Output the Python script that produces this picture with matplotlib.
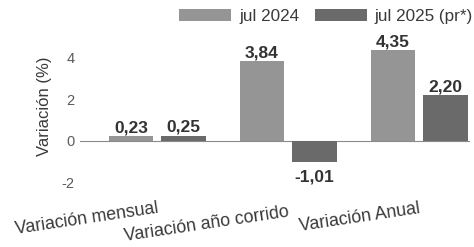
import matplotlib.pyplot as plt
import numpy as np

plt.rcParams['font.family'] = ['Liberation Sans', 'DejaVu Sans']

# data
categories = ['Variación mensual', 'Variación año corrido', 'Variación Anual']
jul_2024 = [0.23, 3.84, 4.35]
jul_2025 = [0.25, -1.01, 2.20]
series_names = ['jul 2024', 'jul 2025 (pr*)']

fig = plt.figure(figsize=(4.74, 2.47), dpi=100)
ax = fig.add_axes([0.169, 0.235, 0.823, 0.60])

x = np.arange(len(categories))
w = 0.34
off = 0.20
c24 = '#959595'
c25 = '#6a6a6a'
b1 = ax.bar(x - off, jul_2024, w, color=c24, label=series_names[0], zorder=2)
b2 = ax.bar(x + off, jul_2025, w, color=c25, label=series_names[1], zorder=2)

for bars in (b1, b2):
    for r in bars:
        v = r.get_height()
        s = f'{v:.2f}'.replace('.', ',')
        cx = r.get_x() + r.get_width() / 2
        if v >= 0:
            ax.text(cx, v + 0.18, s, ha='center', va='baseline',
                    fontsize=12.5, fontweight='bold', color='#333333')
        else:
            ax.text(cx, v - 0.38, s, ha='center', va='top',
                    fontsize=12.5, fontweight='bold', color='#333333')

ax.axhline(0, color='#8a8a8a', lw=0.8, zorder=1)
ax.set_ylim(-2.3, 4.8)
ax.set_xlim(-0.588, 2.39)
ax.set_yticks([-2, 0, 2, 4])
ax.set_yticklabels(['-2', '0', '2', '4'])
ax.tick_params(axis='y', length=0, labelsize=10.5, labelcolor='#5a5a5a', pad=4)
ax.set_xticks([])
for sp in ax.spines.values():
    sp.set_visible(False)
ax.set_ylabel('Variación (%)', fontsize=12, color='#3a3a3a')
ax.yaxis.set_label_coords(-0.072, 0.56)

# category labels, slightly tilted like the scan
label_y = [-2.8, -3.02, -2.82]
for xi, cat, ly in zip(x, categories, label_y):
    ax.text(xi, ly, cat, rotation=8.5, ha='right', va='top', fontsize=12.8,
            color='#3a3a3a', rotation_mode='anchor', clip_on=False)

fig.legend(handles=[b1, b2], loc='center right', bbox_to_anchor=(473 / 474, 1 - 16.5 / 247),
           ncol=2, frameon=False, fontsize=12.3, handlelength=3.05, handleheight=0.76,
           columnspacing=0.88, handletextpad=0.47, borderpad=0, borderaxespad=0,
           labelcolor='#3a3a3a')

fig.savefig('out.png', dpi=100)
